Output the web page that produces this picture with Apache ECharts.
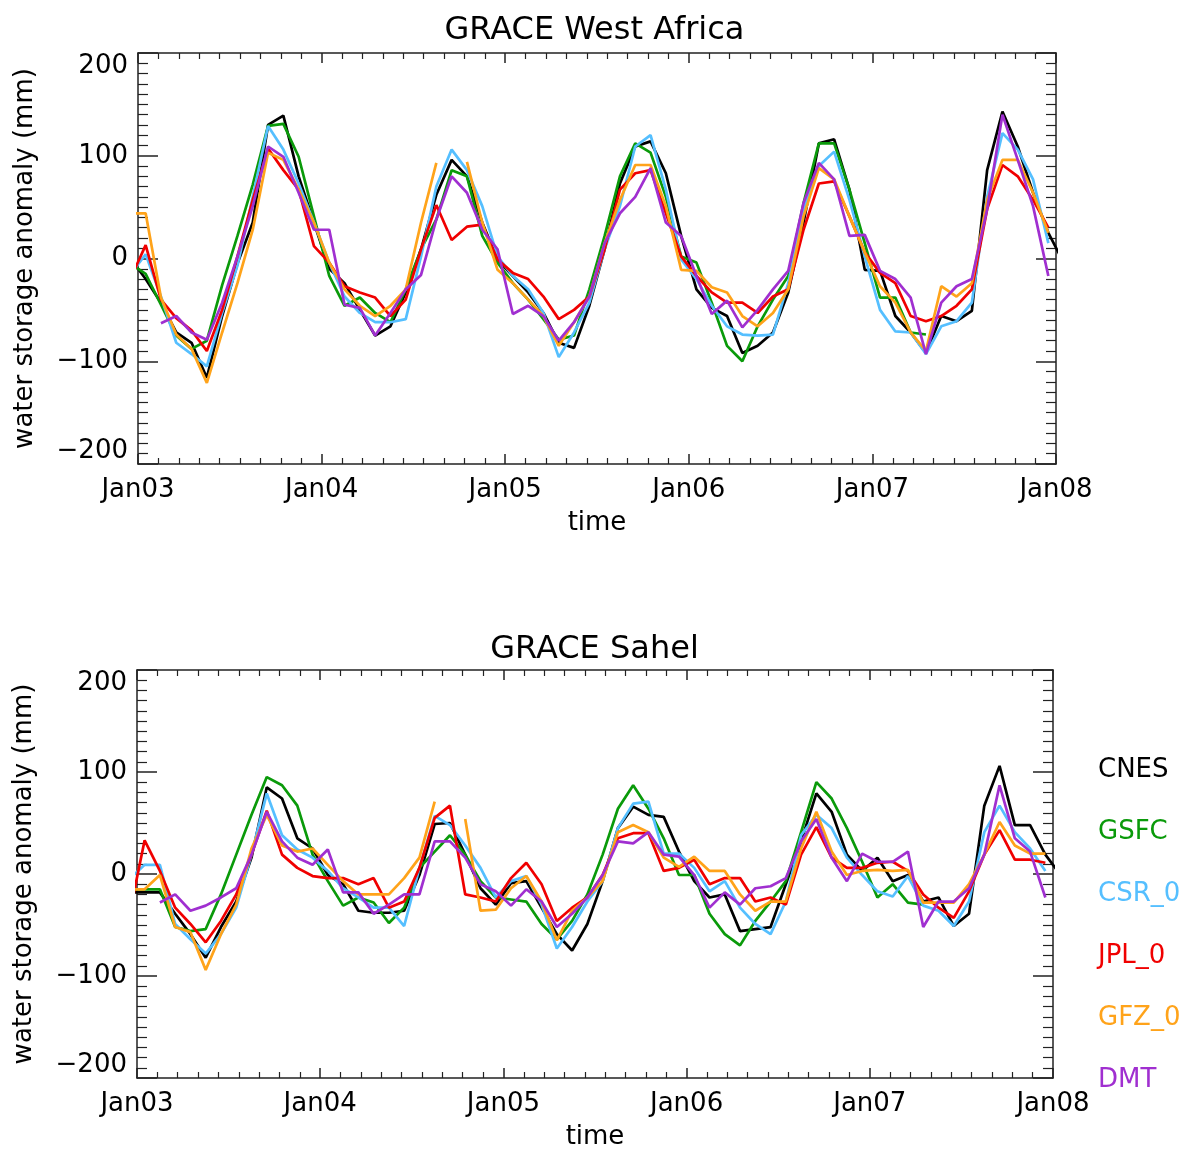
<!DOCTYPE html>
<html>
<head>
<meta charset="utf-8">
<script src="https://cdn.jsdelivr.net/npm/echarts@6/dist/echarts.min.js"></script>
<style>
html,body{margin:0;padding:0;background:#fff;}
#chart{width:1189px;height:1151px;}
</style>
</head>
<body>
<div id="chart"></div>
<script>
// Monthly values, index 0 = Dec 2002, index 1 = Jan 2003 ... index 61 = Jan 2008 (plotted at mid-month)
const firstMonth = { year: 2002, month: 12 };
const seriesNames = ["CNES", "GSFC", "CSR_0", "JPL_0", "GFZ_0", "DMT"];
const seriesColors = ["#000000", "#0a9a0a", "#55bfff", "#f00000", "#ffa31a", "#a02fd0"];
const panelTitles = ["GRACE West Africa", "GRACE Sahel"];
const xTickYears = [2003, 2004, 2005, 2006, 2007, 2008];
const yTicks = [-200, -100, 0, 100, 200];

// ---- GRACE West Africa ----
const waCNES = [0,-20,-43,-72,-82,-116,-56,-5,35,130,139,80,35,-10,-24,-50,-75,-66,-33,9,62,96,80,35,-1,-17,-33,-53,-82,-87,-46,9,73,109,114,83,22,-30,-48,-56,-92,-85,-72,-33,35,112,116,67,-11,-12,-56,-72,-92,-56,-61,-51,86,143,109,64,25,-4];
const waGSFC = [-5,-15,-45,-75,-88,-80,-26,22,72,129,131,99,41,-17,-46,-38,-53,-62,-30,9,38,86,80,22,-4,-24,-40,-59,-79,-75,-30,22,80,112,103,60,2,-4,-43,-85,-100,-66,-40,-17,54,112,112,67,15,-38,-38,-72,-74,null,null,null,null,null,null,null,null,null];
const waCSR  = [-15,4,-37,-82,-93,-105,-53,-7,60,129,106,73,35,-4,-37,-53,-62,-62,-59,2,70,106,86,51,2,-17,-30,-53,-96,-72,-43,9,51,109,120,67,-1,-20,-46,-66,-74,-75,-74,-24,48,90,104,57,2,-50,-71,-72,-93,-66,-61,-43,60,122,106,77,15,null];
const waJPL  = [-20,13,-40,-58,-70,-90,-50,2,57,107,86,67,12,-4,-27,-33,-38,-56,-40,9,52,18,31,33,-1,-14,-20,-37,-59,-50,-37,9,67,83,86,44,2,-17,-33,-43,-43,-53,-37,-30,28,73,75,41,6,-14,-24,-56,-61,-56,-46,-30,48,91,80,57,30,null];
const waGFZ  = [44,44,-38,-74,-88,-121,-72,-24,28,103,96,67,35,-4,-30,-46,-56,-46,-30,35,93,null,94,35,-11,-24,-40,-56,-85,-62,-37,15,57,91,91,51,-11,-12,-28,-33,-56,-66,-53,-30,41,88,77,41,6,-27,-43,-72,-90,-27,-37,-24,57,96,96,64,25,null];
const waDMT  = [null,null,-63,-56,-72,-79,-43,2,51,109,99,64,28,28,-45,-48,-75,-53,-30,-16,38,80,64,28,9,-54,-46,-56,-80,-62,-37,15,44,60,88,35,22,-17,-54,-41,-67,-50,-30,-12,54,93,77,22,23,-12,-20,-38,-93,-43,-27,-20,48,140,96,51,-17,null];

// ---- GRACE Sahel ----
const sCNES = [-18,-18,-18,-39,-59,-82,-52,-27,16,85,74,35,25,-1,-10,-36,-38,-38,-36,-1,49,50,19,-14,-30,-9,-7,-33,-59,-75,-49,-7,45,66,58,56,22,-7,-23,-20,-56,-54,-52,-10,32,79,61,19,3,16,-7,-1,-27,-23,-51,-39,67,106,48,48,19,-1];
const sGSFC = [-15,-15,-15,-52,-56,-54,-20,19,58,95,87,67,19,-7,-31,-23,-28,-48,-33,6,22,38,19,-7,-23,-25,-27,-49,-64,-46,-20,19,64,87,64,35,-1,-1,-39,-59,-70,-46,-27,-7,41,90,74,45,12,-23,-10,-28,-30,null,null,null,null,null,null,null,null,null];
const sCSR  = [-5,9,9,-49,-64,-78,-59,-33,19,79,38,24,16,3,-14,-23,-33,-33,-51,6,57,48,28,6,-23,-7,-2,-30,-73,-52,-27,-7,45,69,71,20,20,6,-17,-7,-33,-49,-59,-27,38,58,45,16,-1,-17,-22,-2,-31,-36,-51,-27,41,67,41,25,3,null];
const sJPL  = [-40,33,3,-33,-49,-67,-46,-20,19,62,19,6,-2,-4,-4,-10,-4,-33,-27,6,55,67,-20,-23,-27,-4,11,-10,-46,-33,-23,-1,35,40,40,3,6,14,-10,-4,-4,-27,-23,-30,19,46,16,6,6,11,12,3,-20,-33,-43,-17,19,43,14,14,11,null];
const sGFZ  = [-15,-15,-1,-52,-57,-94,-59,-30,25,58,28,22,25,9,-7,-20,-20,-20,-4,16,71,null,54,-36,-35,-14,-2,-27,-65,-36,-23,-7,41,48,41,16,7,17,3,3,-20,-36,-27,-27,25,61,22,-1,3,4,3,4,-28,-28,-28,-10,19,51,28,20,20,null];
const sDMT  = [null,null,-28,-20,-36,-31,-23,-14,19,61,32,16,9,24,-18,-18,-39,-30,-20,-20,32,32,16,-10,-17,-31,-15,-27,-52,-39,-23,-1,32,30,41,19,17,-1,-33,-18,-30,-14,-12,-4,32,54,16,-7,20,12,12,22,-52,-27,-27,-14,19,87,35,22,-23,null];

const panelData = [
  [waCNES, waGSFC, waCSR, waJPL, waGFZ, waDMT],
  [sCNES, sGSFC, sCSR, sJPL, sGFZ, sDMT]
];

// mid-month decimal year of each array index
function monthTime(i) {
  const monthsFromJan = (firstMonth.year - 2003) * 12 + (firstMonth.month - 1) + i;
  return 2003 + (monthsFromJan + 0.5) / 12;
}

const FONT = "DejaVu Sans";
const AX = "#222";
const grids = [
  { left: 138, top: 53, width: 918, height: 411 },
  { left: 137, top: 670, width: 916, height: 412 }
];

const xAxes = [], yAxes = [], series = [];
grids.forEach((g, gi) => {
  const common = {
    type: "value", gridIndex: gi, min: 2003, max: 2008, interval: 1,
    axisLine: { show: true, onZero: false, lineStyle: { color: AX, width: 1.5 } },
    axisTick: { show: true, inside: true, length: 10, lineStyle: { color: AX, width: 1.5 } },
    minorTick: { show: true, splitNumber: 9, length: 6, lineStyle: { color: AX, width: 1.2 } },
    splitLine: { show: false }, minorSplitLine: { show: false }
  };
  xAxes.push(Object.assign({}, common, {
    position: "bottom",
    axisLabel: { fontSize: 26, fontFamily: FONT, color: "#000", margin: 13,
      formatter: v => xTickYears.includes(v) ? "Jan" + String(v).slice(2) : "" },
    name: "time", nameLocation: "middle", nameGap: 46,
    nameTextStyle: { fontSize: 26, fontFamily: FONT, color: "#000" }
  }));
  xAxes.push(Object.assign({}, common, { position: "top", axisLabel: { show: false } }));
  const ycommon = {
    type: "value", gridIndex: gi, min: -200, max: 200, interval: 100,
    axisLine: { show: true, onZero: false, lineStyle: { color: AX, width: 1.5 } },
    axisTick: { show: true, inside: true, length: 20, lineStyle: { color: AX, width: 1.5 } },
    minorTick: { show: true, splitNumber: 10, length: 10, lineStyle: { color: AX, width: 1.2 } },
    splitLine: { show: false }, minorSplitLine: { show: false }
  };
  yAxes.push(Object.assign({}, ycommon, {
    position: "left",
    axisLabel: { fontSize: 26, fontFamily: FONT, color: "#000", margin: 10,
      verticalAlignMaxLabel: "top", verticalAlignMinLabel: "bottom",
      formatter: v => yTicks.includes(v) ? (v < 0 ? "\u2212" + (-v) : String(v)) : "" },
    name: "water storage anomaly (mm)", nameLocation: "middle", nameGap: 100,
    nameTextStyle: { fontSize: 26, fontFamily: FONT, color: "#000" }
  }));
  yAxes.push(Object.assign({}, ycommon, { position: "right", axisLabel: { show: false } }));

  panelData[gi].forEach((arr, si) => {
    series.push({
      type: "line", name: seriesNames[si],
      xAxisIndex: gi * 2, yAxisIndex: gi * 2,
      data: arr.map((v, i) => [monthTime(i), v]),
      symbol: "none", connectNulls: false, clip: true,
      lineStyle: { width: 2.7, color: seriesColors[si] },
      itemStyle: { color: seriesColors[si] },
      z: 2 + si, animation: false
    });
  });
});

const option = {
  backgroundColor: "#fff",
  animation: false,
  title: panelTitles.map((t, i) => ({
    text: t, left: "center", top: i === 0 ? 10 : 629,
    textStyle: { fontSize: 32, fontWeight: "normal", fontFamily: FONT, color: "#000" }
  })),
  legend: {
    orient: "vertical", left: 1088, top: 752, itemGap: 36, itemHeight: 26, itemWidth: 0,
    icon: "none", selectedMode: false,
    textStyle: { fontSize: 26, fontFamily: FONT },
    data: seriesNames.map((n, i) => ({ name: n, textStyle: { color: seriesColors[i], fontSize: 26, fontFamily: FONT } }))
  },
  grid: grids,
  xAxis: xAxes,
  yAxis: yAxes,
  series: series
};

const chart = echarts.init(document.getElementById("chart"), null, { renderer: "canvas" });
chart.setOption(option);
</script>
</body>
</html>
